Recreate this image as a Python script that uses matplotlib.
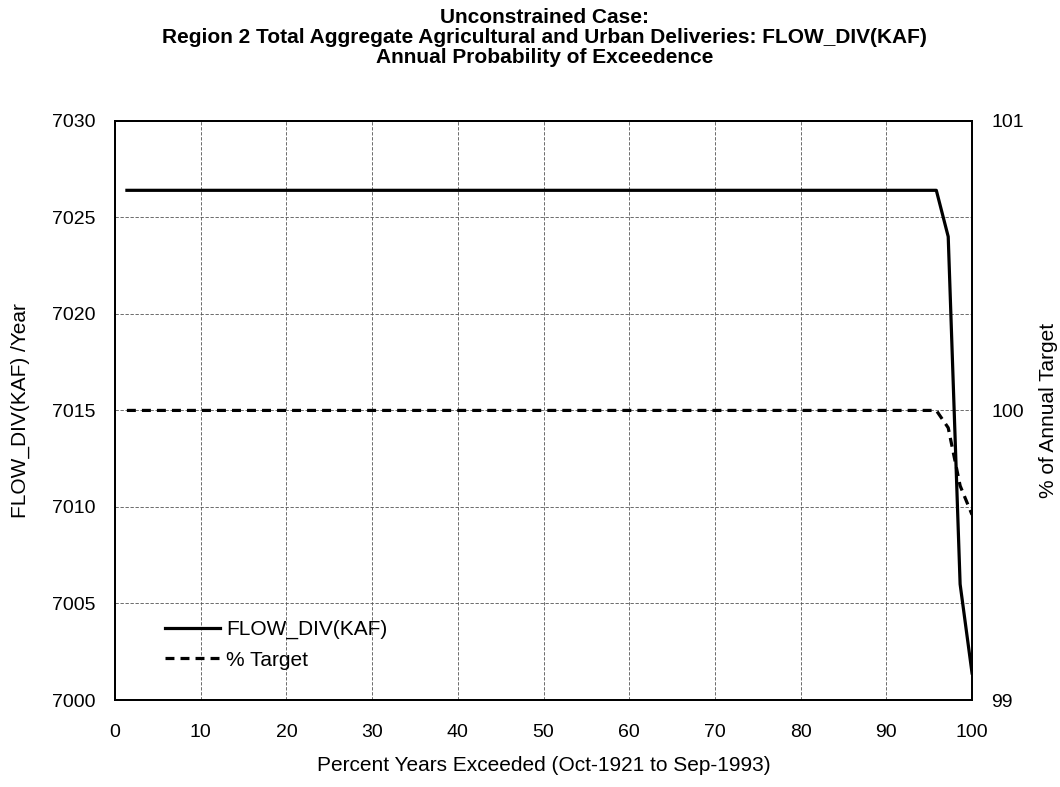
import numpy as np
import matplotlib
matplotlib.use("Agg")
import matplotlib.pyplot as plt

plt.rcParams['font.family'] = ['Liberation Sans', 'DejaVu Sans']

# Annual deliveries sorted by exceedance (72 water years, Oct-1921 to Sep-1993)
n_years = 72
flow_div = [7026.4] * 69 + [7024.0, 7006.0, 7001.4]
pct_target = [100.0] * 69 + [99.94, 99.74, 99.64]
exceed_pct = [100.0 * i / n_years for i in range(1, n_years + 1)]

x_ticks = list(range(0, 101, 10))
left_ticks = list(range(7000, 7031, 5))
right_ticks = [99, 100, 101]

fig = plt.figure(figsize=(10.6, 7.87), dpi=100)
ax = fig.add_axes([0.1085, 0.1105, 0.8085, 0.736])
ax2 = ax.twinx()

line1, = ax.plot(exceed_pct, flow_div, color='black', lw=2.3, label='FLOW_DIV(KAF)')
line2, = ax2.plot(exceed_pct, pct_target, color='black', lw=2.3,
                  linestyle=(0, (2.8, 1.9)), label='% Target')

ax.set_xlim(0, 100)
ax.set_ylim(7000, 7030)
ax2.set_ylim(99, 101)
ax.set_xticks(x_ticks)
ax.set_yticks(left_ticks)
ax2.set_yticks(right_ticks)

ax.grid(True, color='#555555', linestyle=(0, (4, 2)), linewidth=0.6)
ax.set_axisbelow(True)

ax.tick_params(axis='x', length=0, labelsize=14, pad=17)
ax.tick_params(axis='y', length=0, labelsize=14, pad=14)
ax2.tick_params(axis='y', length=0, labelsize=14, pad=14)
for a in (ax, ax2):
    for s in a.spines.values():
        s.set_linewidth(1.3)

ax.set_xlabel('Percent Years Exceeded (Oct-1921 to Sep-1993)', fontsize=15, labelpad=11)
ax.set_ylabel('FLOW_DIV(KAF) /Year', fontsize=15, labelpad=16)
ax2.set_ylabel('% of Annual Target', fontsize=15, labelpad=11)

fig.text(0.514, 0.99,
         'Unconstrained Case:\n'
         'Region 2 Total Aggregate Agricultural and Urban Deliveries: FLOW_DIV(KAF)\n'
         'Annual Probability of Exceedence',
         ha='center', va='top', fontsize=15, fontweight='bold', linespacing=1.08)

leg = ax.legend(handles=[line1, line2], loc='lower left',
                bbox_to_anchor=(0.037, 0.02), frameon=False, fontsize=15,
                handlelength=2.6, handletextpad=0.3, labelspacing=0.55)

fig.savefig('out.png', dpi=100)
